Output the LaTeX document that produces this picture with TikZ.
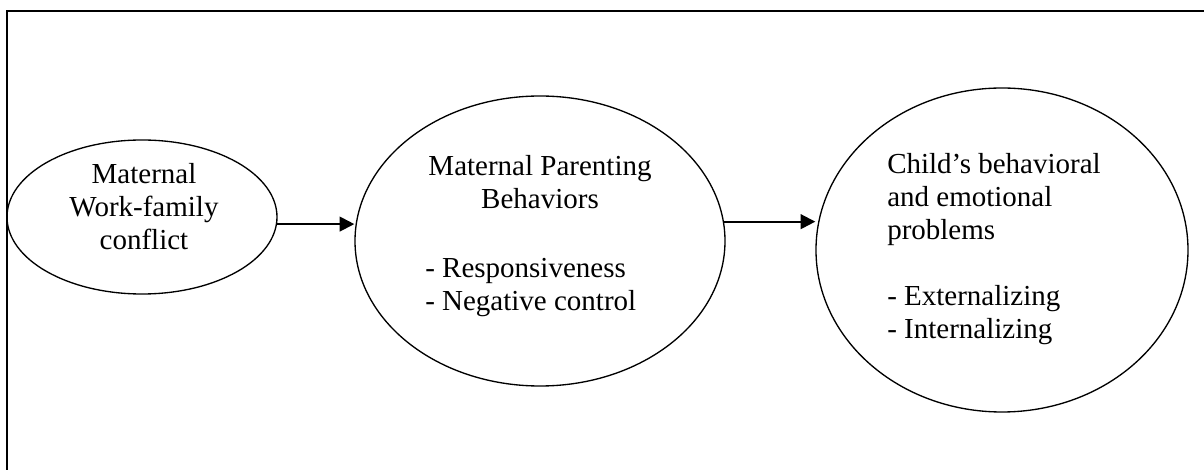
\documentclass[tikz,border=0pt]{standalone}
\usepackage{fontspec}
\setmainfont{Liberation Serif}
\usetikzlibrary{shapes.geometric,arrows.meta}

\begin{document}
\begin{tikzpicture}[x=0.75pt, y=-0.75pt,
		oval/.style={draw, ellipse, line width=1pt, inner sep=0pt},
		words/.style={font=\fontsize{21.75}{24.75}\selectfont, inner sep=0pt},
		link/.style={line width=1.5pt, -{Triangle[length=11pt, width=11pt]}}]
		\useasboundingbox (0, 0) rectangle (1204, 470);
		\begin{scope}
			\clip (0, 0) rectangle (1204, 470);
			\draw[line width=1.3pt] (7, 11) rectangle (1240, 500);
		\end{scope}
		\node[oval, minimum width=202.5pt, minimum height=115.5pt] (wfc) at (142, 217) {};
		\node[oval, minimum width=277.5pt, minimum height=217.5pt] (mpb) at (540, 241) {};
		\node[oval, minimum width=279pt, minimum height=243pt] (cbe) at (1002, 250) {};
		\node[words, align=center, anchor=base] (wfc text) at (144, 250) {Maternal\\Work-family\\conflict};
		\node[words, align=center, anchor=base] (mpb head) at (540, 209) {Maternal Parenting\\Behaviors};
		\node[words, align=left, anchor=base west] (mpb list) at (425, 311) {- Responsiveness\\- Negative control};
		\node[words, align=left, anchor=base west] (cbe text) at (887, 339) {Child’s behavioral\\and emotional\\problems\\[24.75pt]- Externalizing\\- Internalizing};
		\draw[link] (wfc.-3) -- (wfc.-3 -| mpb.west);
		\draw[link] (mpb.6) -- (mpb.6 -| cbe.west);
	\end{tikzpicture}
\end{document}
